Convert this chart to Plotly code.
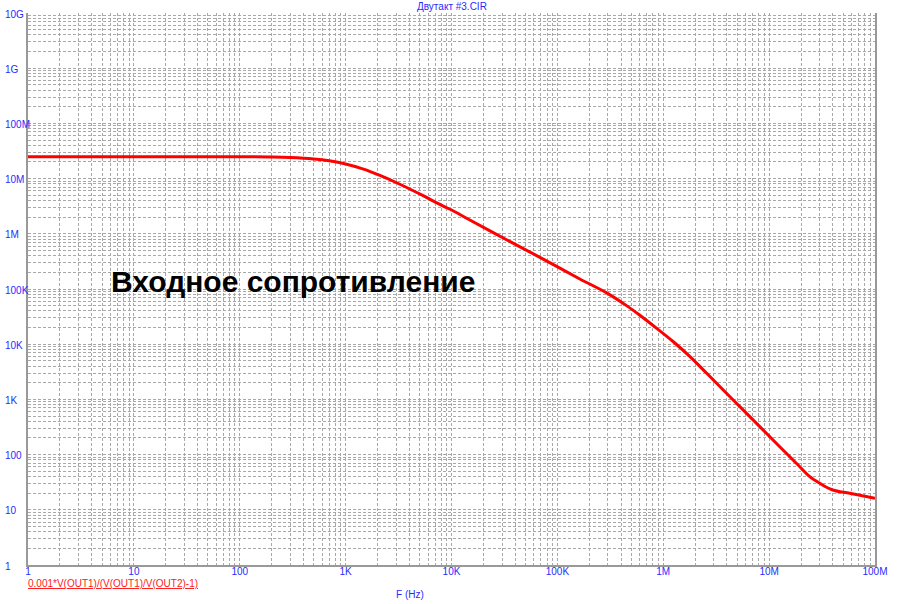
import math
import plotly.graph_objects as go

# Data
freq_hz = [1, 10, 100, 200, 300, 500, 700, 1000, 1500, 2000, 3000, 5400, 7770, 10000,
           14900, 33100, 68400, 163000, 292000, 450000, 601000, 850000, 1230000,
           1800000, 2560000, 5290000, 12600000, 19500000, 24200000, 30100000,
           39900000, 57800000, 100000000]
impedance = [25e6, 25e6, 24.9e6, 24.6e6, 24.1e6, 22.7e6, 21e6, 18.4e6, 14.7e6, 11.9e6,
             8.5e6, 4.9e6, 3.4e6, 2.7e6, 1.78e6, 780e3, 375e3, 152e3, 85e3, 50e3, 33.5e3,
             20e3, 11.3e3, 5.9e3, 3.0e3, 738, 139, 60.4, 39.8, 30.2, 22.8, 19.9, 16.2]

x_tick_vals = [1, 10, 100, 1e3, 1e4, 1e5, 1e6, 1e7, 1e8]
x_tick_text = ["1", "10", "100", "1K", "10K", "100K", "1M", "10M", "100M"]
y_tick_vals = [1, 10, 100, 1e3, 1e4, 1e5, 1e6, 1e7, 1e8, 1e9, 1e10]
y_tick_text = ["1", "10", "100", "1K", "10K", "100K", "1M", "10M", "100M", "1G", "10G"]

title_text = "Двутакт #3.CIR"
trace_label = "0.001*V(OUT1)/(V(OUT1)/V(OUT2)-1)"
x_label = "F (Hz)"
big_label = "Входное сопротивление"

BLUE = "#2a2aff"
GRID = "#a8a8a8"
FONT = "Arial, Liberation Sans, sans-serif"

fig = go.Figure()
fig.add_trace(go.Scatter(x=freq_hz, y=impedance, mode="lines",
                         line=dict(color="#ff0000", width=3, shape="spline", smoothing=1),
                         showlegend=False, hoverinfo="skip"))

fig.update_layout(
    width=900, height=604,
    margin=dict(l=28, r=25, t=13, b=39),
    paper_bgcolor="white", plot_bgcolor="white",
    font=dict(family=FONT, size=10, color=BLUE),
    showlegend=False,
)

fig.update_xaxes(
    type="log", range=[0, 8],
    tickvals=x_tick_vals, ticktext=x_tick_text,
    tickfont=dict(family=FONT, size=10, color=BLUE),
    ticks="", ticklen=0, ticklabelstandoff=-4,
    showgrid=True, gridcolor=GRID, griddash="3px,2px", gridwidth=1,
    minor=dict(dtick="D1", showgrid=True, gridcolor=GRID, griddash="3px,2px", gridwidth=1, ticks=""),
    showline=True, linecolor="#999999", linewidth=2, mirror=False,
    zeroline=False,
)
fig.update_yaxes(
    type="log", range=[0, 10],
    tickvals=y_tick_vals, showticklabels=False,
    ticks="",
    showgrid=True, gridcolor=GRID, griddash="3px,2px", gridwidth=1,
    minor=dict(dtick="D1", showgrid=True, gridcolor=GRID, griddash="3px,2px", gridwidth=1, ticks=""),
    showline=True, linecolor="#999999", linewidth=2, mirror=True,
    zeroline=False,
)

# Left-aligned y tick labels (as in the reference); log axis -> annotation y in log10 units
for v, t in zip(y_tick_vals, y_tick_text):
    fig.add_annotation(x=0.0, xref="paper", xshift=-25, y=math.log10(v), yref="y", yshift=-1,
                       text=t, showarrow=False, xanchor="left", yanchor="middle",
                       font=dict(family=FONT, size=10, color=BLUE))

fig.add_annotation(x=0.5, xref="paper", y=1, yref="paper", yshift=14, yanchor="top",
                   text=title_text, showarrow=False,
                   font=dict(family=FONT, size=10, color=BLUE))
fig.add_annotation(x=0, xref="paper", xshift=-2, y=0, yref="paper", yshift=-18, yanchor="middle",
                   xanchor="left", text="<u>" + trace_label + "</u>", showarrow=False,
                   font=dict(family=FONT, size=10, color="#ff2020"))
fig.add_annotation(x=(410 - 28) / 847, xref="paper", y=0, yref="paper", yshift=-29,
                   yanchor="middle", text=x_label, showarrow=False,
                   font=dict(family=FONT, size=10, color=BLUE))
fig.add_annotation(x=(109 - 28) / 847, xref="paper", y=(565 - 281) / 552, yref="paper",
                   xanchor="left", yanchor="middle", text="<b>" + big_label + "</b>",
                   showarrow=False, font=dict(family=FONT, size=30, color="black"))

fig.write_html("out.html",
               config={"displayModeBar": False},
               post_script="document.body.style.margin='0px';document.body.style.overflow='hidden';")
